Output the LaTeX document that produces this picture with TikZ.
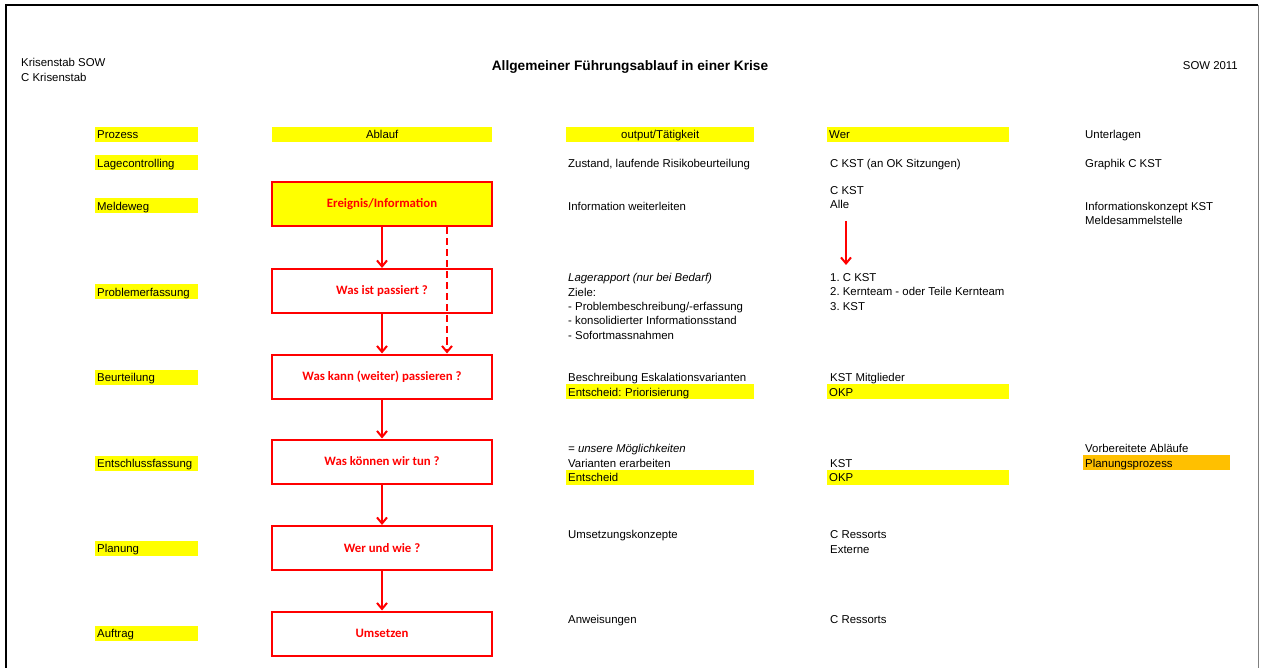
\documentclass[tikz,border=0pt]{standalone}
\usepackage{fontspec}
\setmainfont{Liberation Sans}
\newfontfamily\boxfont{Carlito}
\usetikzlibrary{arrows.meta,math}
\definecolor{hlyellow}{RGB}{255,255,0}
\definecolor{hlorange}{RGB}{255,192,0}
\definecolor{boxred}{RGB}{255,0,0}
\frenchspacing

\begin{document}
\begin{tikzpicture}
   [
      x=1pt, y=-1pt,
      >={Straight Barb[length=6pt,width=10pt,line width=2pt]},
      every node/.style={font=\fontsize{11.4}{14.5}\selectfont},
      txt/.style={anchor=base west, inner sep=0pt, align=left},
      hlbar/.style={anchor=west, fill=hlyellow, inner xsep=2pt, inner ysep=0pt,
      minimum height=15pt, text height=10pt, text depth=1pt, text width=#1,
      align=left},
      stepbox/.style={draw=boxred, line width=2pt, minimum width=220pt, minimum
      height=44pt, text=boxred, font=\boxfont\bfseries\fontsize{12.8}{15}\selectfont},
      flow/.style={->, draw=boxred, line width=2pt}
   ]
   \useasboundingbox (0,0) rectangle (1261,668);
   \draw[line width=2.5pt] (6,668) -- (6,5) -- (1258,5);
   \draw[gray, line width=1pt] (1258,5) -- (1258,668);

   % multi-line nodes sit on the baseline of their last line
   \node[txt] (stab) at (21,81.5) {Krisenstab SOW\\C Krisenstab};
   \node[anchor=base, inner sep=0pt, font=\bfseries\fontsize{13.7}{16}\selectfont]
      (title) at (630,71) {Allgemeiner Führungsablauf in einer Krise};
   \node[anchor=base east, inner sep=0pt] (jahr) at (1238,70) {SOW 2011};

   \foreach \name/\y [count=\i] in {Prozess/134.5, Lagecontrolling/163,
      Meldeweg/206, Problemerfassung/292, Beurteilung/377,
      Entschlussfassung/463, Planung/548, Auftrag/633}
      \node[hlbar=99pt] (prozess\i) at (95,\y) {\name};

   \node[hlbar=216pt, align=center] (ablauf) at (272,134.5) {Ablauf};
   \node[hlbar=184pt, align=center] (output) at (566,134.5) {output/Tätigkeit};
   \node[hlbar=178pt] (wer) at (827,134.5) {Wer};
   \node[txt] (unterlagen) at (1085,139) {Unterlagen};

   \node[stepbox, fill=hlyellow] (step0) at (382,204.5) {Ereignis/Information};
   \node[stepbox] (step1) at (382,291) {Was ist passiert ?};
   \node[stepbox] (step2) at (382,376.5) {Was kann (weiter) passieren ?};
   \node[stepbox] (step3) at (382,461.5) {Was können wir tun ?};
   \node[stepbox] (step4) at (382,548) {Wer und wie ?};
   \node[stepbox] (step5) at (382,633.5) {Umsetzen};

   \foreach \i in {0,...,4} {
      \tikzmath{
         int \j;
         \j = \i+1;
      }
      \draw[flow] (step\i) -- (step\j);
   }
   \draw[flow, dash pattern=on 7pt off 4pt]
      ([xshift=65pt]step0.south) -- ([xshift=65pt]step2.north);

   % Lagecontrolling / Meldeweg
   \node[txt] (out1) at (568,167.5) {Zustand, laufende Risikobeurteilung};
   \node[txt] (wer1) at (830,167.5) {C KST (an OK Sitzungen)};
   \node[txt] (doc1) at (1085,167.5) {Graphik C KST};
   \node[txt] (out2) at (568,210.5) {Information weiterleiten};
   \node[txt] (wer2) at (830,209) {C KST\\Alle};
   \node[txt] (doc2) at (1085,225) {Informationskonzept KST\\Meldesammelstelle};
   \coordinate (meldung) at (846,221);
   \coordinate (empfang) at (846,265);
   \draw[flow] (meldung) -- (empfang);

   % Problemerfassung / Beurteilung
   \node[txt] (out3) at (568,339.5) {\textit{Lagerapport (nur bei Bedarf)}\\Ziele:\\
      - Problembeschreibung/-erfassung\\- konsolidierter Informationsstand\\
      - Sofortmassnahmen};
   \node[txt] (wer3) at (830,310.5) {1. C KST\\2. Kernteam - oder Teile Kernteam\\3. KST};
   \node[txt] (out4) at (568,381.5) {Beschreibung Eskalationsvarianten};
   \node[hlbar=184pt] (out4b) at (566,391.5) {Entscheid: Priorisierung};
   \node[txt] (wer4) at (830,381.5) {KST Mitglieder};
   \node[hlbar=178pt] (wer4b) at (827,391.5) {OKP};

   % Entschlussfassung
   \node[txt] (out5) at (568,467) {\textit{= unsere Möglichkeiten}\\Varianten erarbeiten};
   \node[hlbar=184pt] (out5b) at (566,477) {Entscheid};
   \node[txt] (wer5) at (830,467.5) {KST};
   \node[hlbar=178pt] (wer5b) at (827,477) {OKP};
   \node[txt] (doc5) at (1085,452.5) {Vorbereitete Abläufe};
   \node[hlbar=143pt, fill=hlorange] (doc5b) at (1083,462.5) {Planungsprozess};

   % Planung / Auftrag
   \node[txt] (out6) at (568,538.5) {Umsetzungskonzepte};
   \node[txt] (wer6) at (830,553) {C Ressorts\\Externe};
   \node[txt] (out7) at (568,623.5) {Anweisungen};
   \node[txt] (wer7) at (830,623.5) {C Ressorts};
\end{tikzpicture}
\end{document}
